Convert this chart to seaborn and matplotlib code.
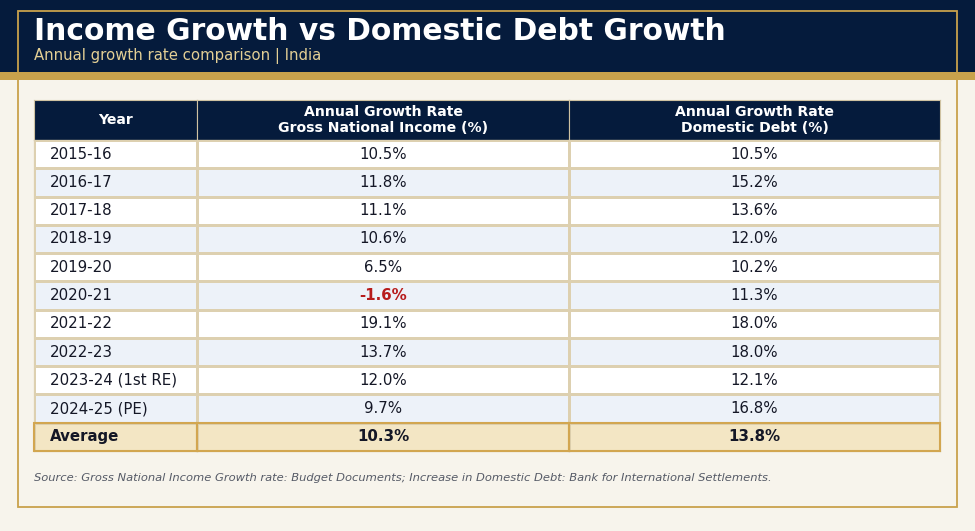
import numpy as np
import pandas as pd
import matplotlib
matplotlib.use("Agg")
import matplotlib.pyplot as plt
from matplotlib.colors import ListedColormap
from matplotlib.patches import Rectangle
import seaborn as sns

# ---- data ----
years = ["2015-16", "2016-17", "2017-18", "2018-19", "2019-20", "2020-21",
         "2021-22", "2022-23", "2023-24 (1st RE)", "2024-25 (PE)"]
gni_growth = [10.5, 11.8, 11.1, 10.6, 6.5, -1.6, 19.1, 13.7, 12.0, 9.7]
debt_growth = [10.5, 15.2, 13.6, 12.0, 10.2, 11.3, 18.0, 18.0, 12.1, 16.8]
avg_label = "Average"
avg_gni = 10.3
avg_debt = 13.8
headers = ["Year", "Annual Growth Rate\nGross National Income (%)",
           "Annual Growth Rate\nDomestic Debt (%)"]
title = "Income Growth vs Domestic Debt Growth"
subtitle = "Annual growth rate comparison | India"
source = ("Source: Gross National Income Growth rate: Budget Documents; "
          "Increase in Domestic Debt: Bank for International Settlements.")

# ---- colours ----
NAVY = "#051b3c"
GOLD = "#c9a24c"
BG = "#f7f4ec"
WHITE = "#ffffff"
BLUE = "#edf2f9"
AVG = "#f3e6c4"
GRID = "#ddd0b0"
TXT = "#141726"
RED = "#b71c1c"

sns.set_theme(style="white")
plt.rcParams["font.family"] = ["DejaVu Sans"]

W, H = 975, 531
fig = plt.figure(figsize=(W / 100, H / 100), dpi=100, facecolor=BG)

def fx(x):
    return x / W

def fy(y):
    return 1 - y / H

# header band & decorations
fig.patches.append(Rectangle((0, fy(72)), 1, 72 / H, transform=fig.transFigure,
                             facecolor=NAVY, edgecolor="none", zorder=0))
fig.patches.append(Rectangle((0, fy(80)), 1, 8 / H, transform=fig.transFigure,
                             facecolor=GOLD, edgecolor="none", zorder=1))
fig.patches.append(Rectangle((fx(17.5), fy(507)), (957 - 17.5) / W, (507 - 10.5) / H,
                             transform=fig.transFigure, facecolor="none",
                             edgecolor=GOLD, linewidth=1.3, zorder=2))

fig.text(fx(34), fy(32), title, color="white", fontsize=21.4, fontweight="bold",
         va="center", ha="left")
fig.text(fx(34), fy(55.5), subtitle, color="#e3cf95", fontsize=10.7,
         va="center", ha="left")
fig.text(fx(34), fy(478), source, color="#555a66", fontsize=8.25,
         style="italic", va="center", ha="left")

# ---- table ----
left, right, top, bottom = 34, 940, 100, 451
gs = fig.add_gridspec(2, 3, left=fx(left), right=fx(right), top=fy(top),
                      bottom=fy(bottom), width_ratios=[163, 372, 371],
                      height_ratios=[40, 311], wspace=0, hspace=0)

n = len(years)
shade = np.array([i % 2 for i in range(n)] + [2]).reshape(-1, 1)
cmap = ListedColormap([WHITE, BLUE, AVG])

col_texts = [
    years + [avg_label],
    [f"{v:.1f}%" for v in gni_growth] + [f"{avg_gni:.1f}%"],
    [f"{v:.1f}%" for v in debt_growth] + [f"{avg_debt:.1f}%"],
]
col_values = [None, gni_growth, debt_growth]

for c in range(3):
    # header cell
    axh = fig.add_subplot(gs[0, c])
    axh.set_facecolor(NAVY)
    axh.set_xticks([]); axh.set_yticks([])
    for s in axh.spines.values():
        s.set_visible(True)
        s.set_color("#cfc2a2")
        s.set_linewidth(0.8)
    if c > 0:
        axh.axvline(0, color="#9a917a", linewidth=1.2)
    axh.text(0.5, 0.5, headers[c], transform=axh.transAxes, ha="center",
             va="center", color="white", fontsize=10.1, fontweight="bold",
             linespacing=1.1)

    # body cells
    axb = fig.add_subplot(gs[1, c])
    df = pd.DataFrame(shade, index=col_texts[c], columns=[headers[c]])
    sns.heatmap(df, ax=axb, cmap=cmap, vmin=-0.5, vmax=2.5, cbar=False,
                linewidths=0.8, linecolor=GRID, annot=False)
    axb.set_xticks([]); axb.set_yticks([])
    axb.set_xlabel(""); axb.set_ylabel("")
    for s in axb.spines.values():
        s.set_visible(True)
        s.set_color(GRID)
        s.set_linewidth(0.9)
    # average row border in gold
    axb.add_patch(Rectangle((0, n), 1, 1, facecolor="none", edgecolor="#d2a650",
                            linewidth=1.5, zorder=5, clip_on=False))
    for r, label in enumerate(col_texts[c]):
        is_avg = r == n
        color = TXT
        weight = "bold" if is_avg else "normal"
        if c > 0 and not is_avg and col_values[c][r] < 0:
            color = RED
            weight = "bold"
        if c == 0:
            axb.text(16 / 163, r + 0.5, label, ha="left", va="center",
                     color=color, fontsize=10.8, fontweight=weight,
                     transform=axb.get_yaxis_transform())
        else:
            axb.text(0.5, r + 0.5, label, ha="center", va="center",
                     color=color, fontsize=10.8, fontweight=weight)

fig.savefig("out.png", dpi=100, facecolor=BG)
